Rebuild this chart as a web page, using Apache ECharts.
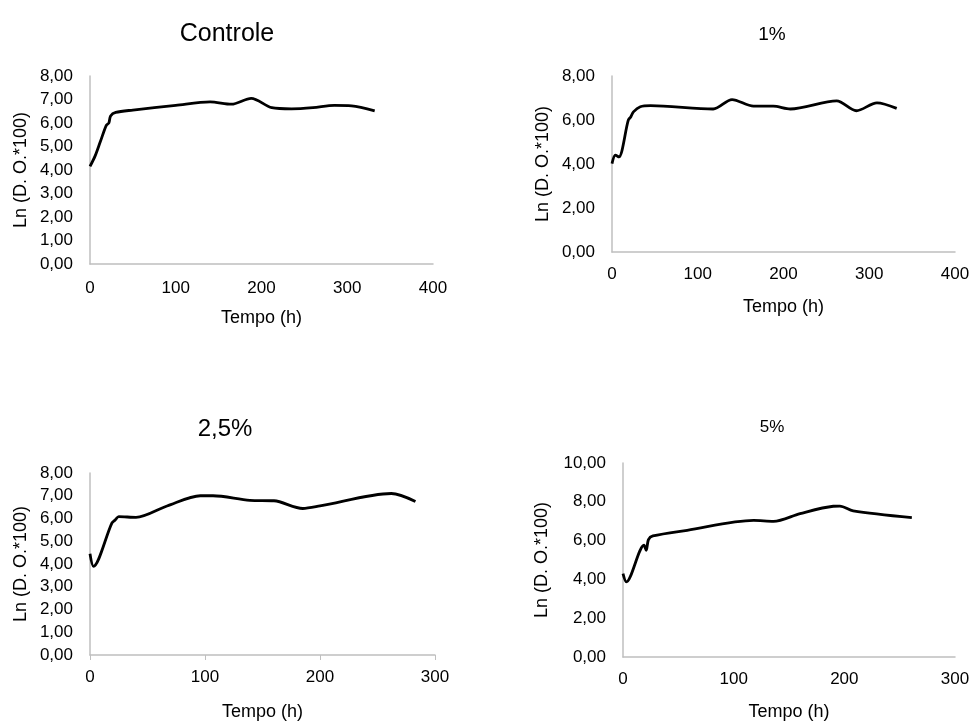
<!DOCTYPE html>
<html>
<head>
<meta charset="utf-8">
<script src="https://cdn.jsdelivr.net/npm/echarts@6/dist/echarts.min.js"></script>
<style>html,body{margin:0;padding:0;background:#fff}#c{width:974px;height:722px}</style>
</head>
<body>
<div id="c"></div>
<script>
const titles = ['Controle', '1%', '2,5%', '5%'];
const xTitle = 'Tempo (h)';
const yTitle = 'Ln (D. O.*100)';

const ctrlT = [0, 6, 12, 19, 22, 24, 30, 50, 100, 140, 165, 188, 212, 235, 260, 285, 305, 332];
const ctrlV = [4.15, 4.6, 5.2, 5.9, 6.0, 6.3, 6.45, 6.55, 6.75, 6.9, 6.8, 7.05, 6.65, 6.6, 6.65, 6.75, 6.73, 6.52];

const p1T = [0, 4, 8, 19, 22, 25, 33, 45, 118, 140, 165, 188, 208, 262, 285, 309, 332];
const p1V = [4.02, 4.4, 4.32, 5.99, 6.15, 6.37, 6.6, 6.65, 6.5, 6.93, 6.63, 6.63, 6.5, 6.87, 6.42, 6.78, 6.53];

const p25T = [0, 3, 19, 22, 25, 40, 67, 96, 107, 139, 160, 185, 200, 262, 283];
const p25V = [4.45, 3.9, 5.8, 5.94, 6.08, 6.05, 6.55, 7.0, 7.0, 6.8, 6.78, 6.44, 6.55, 7.1, 6.75];

const p5T = [0, 3, 19, 21, 23, 27, 58, 118, 136, 160, 190, 196, 208, 261];
const p5V = [4.3, 3.87, 5.76, 5.5, 6.05, 6.24, 6.53, 7.04, 6.99, 7.39, 7.77, 7.78, 7.53, 7.18];

const xMax = [400, 400, 300, 300];
const yMax = [8, 8, 8, 10];
const yStep = [1, 2, 1, 2];

const seriesT = [ctrlT, p1T, p25T, p5T];
const seriesV = [ctrlV, p1V, p25V, p5V];

const grids = [
  {left: 90, top: 76, width: 343, height: 188},
  {left: 612, top: 76, width: 343, height: 176},
  {left: 90, top: 473, width: 345, height: 188},
  {left: 623, top: 463, width: 332, height: 194}
];
const titlePos = [
  {x: 222, y: 17, size: 25},
  {x: 767, y: 20, size: 19},
  {x: 220, y: 412, size: 24},
  {x: 767, y: 414, size: 17}
];
const yNameGap = [60, 60, 60, 72];
const xLabelMargin = [16, 14, 14, 14];
const xNameGap = [45, 46, 48, 46];

const font = 'Liberation Sans, Arial, sans-serif';
const fmt = v => v.toFixed(2).replace('.', ',');

const option = {
  animation: false,
  title: titles.map((t, i) => ({
    text: t, left: titlePos[i].x, top: titlePos[i].y, textAlign: 'center',
    textStyle: {fontFamily: font, fontWeight: 'normal', fontSize: titlePos[i].size, color: '#000'}
  })),
  grid: grids,
  xAxis: grids.map((g, i) => ({
    type: 'value', gridIndex: i, min: 0, max: xMax[i], interval: 100,
    name: xTitle, nameLocation: 'middle', nameGap: xNameGap[i],
    nameTextStyle: {fontFamily: font, fontSize: 18, color: '#000'},
    axisLine: {show: true, lineStyle: {color: '#bfbfbf', width: 1.5}},
    axisTick: {show: i === 2, length: 5, lineStyle: {color: '#bfbfbf'}},
    splitLine: {show: false},
    axisLabel: {fontFamily: font, fontSize: 17, color: '#000', margin: xLabelMargin[i]}
  })),
  yAxis: grids.map((g, i) => ({
    type: 'value', gridIndex: i, min: 0, max: yMax[i], interval: yStep[i],
    name: yTitle, nameLocation: 'middle', nameGap: yNameGap[i],
    nameTextStyle: {fontFamily: font, fontSize: 18, color: '#000'},
    axisLine: {show: true, lineStyle: {color: '#bfbfbf', width: 1.5}},
    axisTick: {show: false},
    splitLine: {show: false},
    axisLabel: {fontFamily: font, fontSize: 17, color: '#000', margin: 17, formatter: fmt}
  })),
  series: seriesT.map((ts, i) => ({
    type: 'line', xAxisIndex: i, yAxisIndex: i,
    data: ts.map((t, j) => [t, seriesV[i][j]]),
    smooth: 0.3, showSymbol: false,
    lineStyle: {color: '#000', width: 2.8}
  }))
};
echarts.init(document.getElementById('c')).setOption(option);
</script>
</body>
</html>
